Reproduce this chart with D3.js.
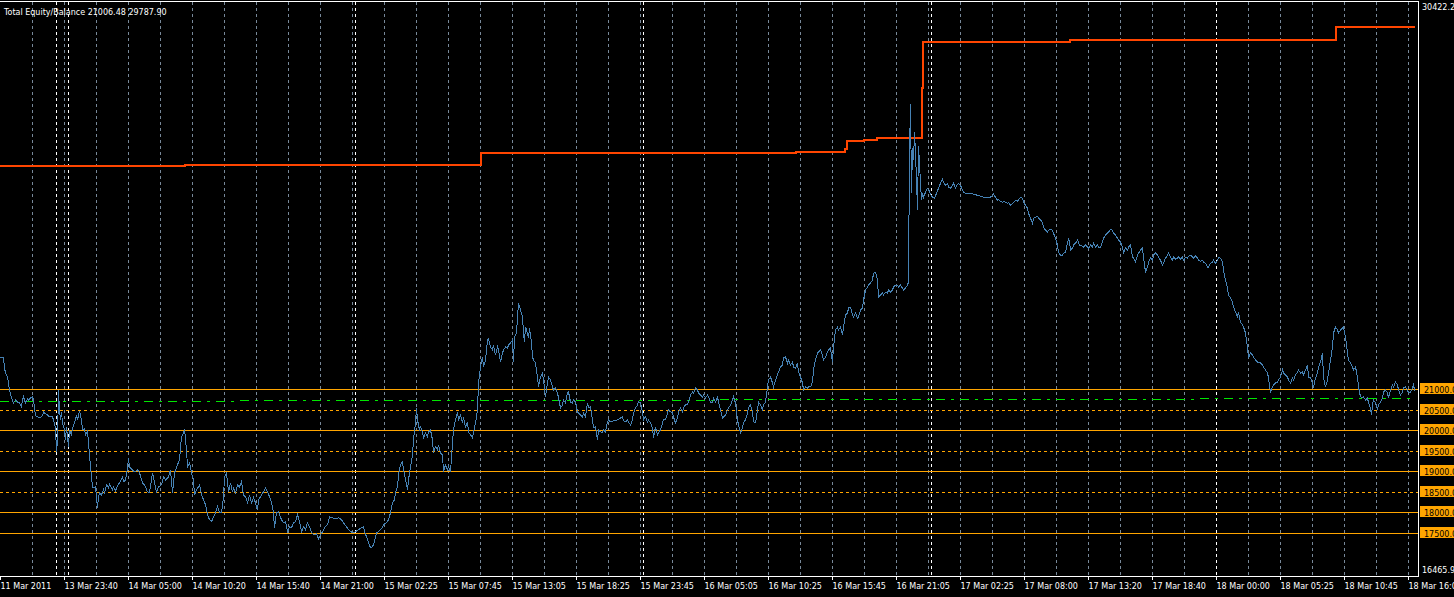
<!DOCTYPE html>
<html><head><meta charset="utf-8">
<script src="https://cdn.jsdelivr.net/npm/d3@7"></script>
<style>html,body{margin:0;padding:0;background:#000;overflow:hidden}svg{display:block}</style>
</head><body><svg id="c" width="1454" height="597"></svg>
<script>
// ---------- data ----------
const titleText = "Total Equity/Balance 21006.48 29787.90";
const priceMax = 30422.2;
const priceMin = 16465.9;
const timeLabels = ["11 Mar 2011","13 Mar 23:40","14 Mar 05:00","14 Mar 10:20","14 Mar 15:40","14 Mar 21:00",
  "15 Mar 02:25","15 Mar 07:45","15 Mar 13:05","15 Mar 18:25","15 Mar 23:45","16 Mar 05:05","16 Mar 10:25",
  "16 Mar 15:45","16 Mar 21:05","17 Mar 02:25","17 Mar 08:00","17 Mar 13:20","17 Mar 18:40","18 Mar 00:00",
  "18 Mar 05:25","18 Mar 10:45","18 Mar 16:05"];
const barsPerLabel = 64;
const barsPerGrid = 32;
const totalBars = 1418;
const levels = [21000, 20500, 20000, 19500, 19000, 18500, 18000, 17500];
const levelDashed = [false, true, false, true, false, true, false, false];
const separatorBars = [56, 68, 355, 643, 931, 1216];
// balance: [bar, value] change points
const balance = [[0,26419],[185,26443],[481,26735],[796,26759],[845,26839],[847,27027],[864,27058],[877,27100],
  [922,28327],[923,29433],[1070,29482],[1336,29788],[1415,29788]];
const trendLine = [[0,20695],[1415,20767]];
// equity: [bar, value]
const equity = [[0,21777],[3,21752],[4,21510],[5,21388],[7,21291],[8,21146],[9,20976],[11,20782],[13,20660],[15,20733],[17,20684],[19,20660],[21,20563],[22,20733],[23,20806],[25,20660],[27,20757],[28,20733],[30,20782],[32,20806],[33,20733],[35,20345],[37,20320],[39,20296],[42,20345],[43,20442],[45,20393],[47,20369],[49,20320],[52,20320],[53,20248],[55,20053],[56,19471],[57,19762],[58,20976],[59,20490],[60,20248],[61,20442],[62,20175],[64,20005],[65,19762],[66,20078],[68,19592],[69,20005],[71,19884],[72,20053],[74,20175],[76,20369],[77,20248],[79,20466],[81,20248],[82,20005],[84,20029],[85,19884],[87,19981],[88,19689],[90,19107],[92,18622],[93,18597],[95,18622],[97,18112],[98,18379],[99,18476],[101,18427],[103,18549],[104,18476],[106,18670],[108,18597],[109,18694],[112,18549],[113,18622],[115,18524],[117,18646],[119,18719],[122,18864],[123,18743],[125,18791],[127,19083],[128,19325],[129,19107],[132,19034],[134,18986],[137,19034],[139,18961],[142,18719],[144,18670],[147,18500],[149,18476],[152,18961],[154,18719],[156,18500],[158,18622],[161,18670],[163,18864],[165,18791],[168,18864],[170,19034],[172,18476],[174,18961],[177,19155],[179,19277],[181,19835],[183,19932],[184,20029],[186,19520],[187,19107],[189,19204],[191,18961],[193,18791],[194,18427],[196,18549],[198,18622],[199,18670],[201,18427],[203,18306],[205,18185],[207,17942],[209,17821],[211,17772],[213,17893],[215,17990],[217,18136],[219,17990],[221,17990],[223,18379],[224,18864],[226,18961],[228,18500],[230,18719],[232,18500],[233,18597],[235,18476],[237,18670],[239,18622],[241,18743],[243,18427],[245,18379],[247,18233],[249,18427],[251,18233],[253,18355],[255,18233],[257,18063],[258,18306],[260,18379],[263,18500],[265,18597],[267,18500],[269,18379],[271,18233],[273,17990],[274,17626],[276,17990],[278,18015],[281,17821],[283,17748],[285,17772],[287,17529],[289,17651],[291,17626],[293,17748],[295,17772],[297,17942],[299,17772],[301,17529],[303,17651],[305,17578],[307,17748],[309,17651],[311,17505],[313,17457],[316,17481],[318,17360],[320,17457],[322,17529],[324,17626],[327,17699],[329,17893],[332,17869],[335,17845],[338,17869],[341,17821],[343,17748],[346,17651],[349,17554],[352,17505],[355,17529],[358,17578],[361,17626],[363,17651],[364,17529],[366,17408],[368,17263],[370,17141],[372,17165],[374,17287],[376,17505],[378,17529],[381,17602],[383,17699],[386,17748],[388,17821],[390,17990],[392,18233],[394,18306],[395,18476],[397,18622],[398,18913],[400,19155],[402,19228],[403,19034],[405,18791],[407,18549],[408,18791],[410,19107],[412,19398],[413,19762],[415,20175],[416,20539],[417,20248],[419,20005],[420,20078],[422,19956],[423,19811],[425,19932],[427,19835],[428,19956],[430,20005],[432,19762],[433,19447],[435,19592],[437,19520],[438,19641],[440,19447],[442,19398],[443,18986],[445,19155],[447,19034],[448,19107],[450,18986],[452,19689],[453,20005],[455,20248],[457,20442],[458,20248],[460,20369],[462,20175],[463,20320],[465,20053],[467,20199],[468,19956],[470,19884],[472,19811],[473,19932],[475,20175],[477,20490],
[478,21146],[480,21534],[482,21777],[483,21534],[485,21704],[487,22189],[488,22214],[490,22019],[492,21947],[493,22068],[495,21825],[497,22019],[498,21947],[500,21655],[502,21874],[503,21947],[505,22019],[507,21995],[508,22068],[510,22116],[512,22189],[513,21655],[514,22262],[516,22359],[517,22747],[518,23087],[520,22917],[522,22747],[523,22359],[524,22141],[525,22505],[527,22359],[528,22238],[529,22480],[531,22116],[532,21777],[533,21704],[535,21631],[537,21291],[538,21049],[540,21291],[542,21388],[543,21218],[545,20806],[547,21146],[548,21291],[550,21218],[552,21049],[553,20976],[555,21024],[557,20903],[558,20782],[560,20539],[562,20612],[563,20733],[565,20660],[567,20903],[568,20927],[570,20684],[572,20660],[573,20733],[575,20684],[577,20442],[578,20418],[580,20369],[582,20320],[583,20418],[585,20320],[587,20660],[588,20539],[590,20563],[592,20248],[593,20053],[595,20078],[597,19762],[598,20005],[600,19956],[602,19932],[603,20005],[605,19956],[607,20199],[608,20248],[610,20199],[613,20223],[617,20248],[620,20296],[622,20320],[623,20223],[625,20199],[627,20248],[628,20199],[630,20126],[632,20248],[633,20418],[635,20539],[637,20612],[638,20684],[640,20660],[642,20442],[643,20248],[645,20320],[647,20199],[648,20248],[650,20175],[652,20053],[653,19811],[655,20078],[657,19884],[658,19932],[660,20005],[662,20175],[663,20248],[665,20248],[667,20418],[668,20490],[670,20442],[672,20418],[673,20320],[675,20175],[677,20296],[678,20442],[680,20539],[682,20442],[683,20539],[685,20612],[687,20612],[688,20684],[690,20854],[692,20927],[693,20903],[695,21024],[697,20976],[698,20903],[700,20854],[702,20806],[703,20854],[705,20782],[707,20854],[708,20806],[710,20684],[712,20660],[713,20782],[715,20684],[717,20806],[718,20684],[720,20490],[722,20296],[723,20320],[725,20369],[727,20490],[728,20539],[730,20612],[732,20733],[733,20806],[735,20660],[737,20248],[738,20126],[740,19932],[742,20053],[743,20175],[745,20248],[747,20418],[748,20539],[750,20612],[752,20442],[753,20199],[755,20175],[757,20490],[758,20684],[760,20612],[762,20490],[763,20612],[765,20684],[767,21049],[768,21218],[770,21291],[772,21146],[773,21049],[775,21218],[777,21340],[778,21413],[780,21534],[782,21582],[783,21752],[785,21777],[787,21631],[788,21704],[790,21582],[792,21655],[793,21534],[795,21510],[797,21631],[798,21413],[800,21291],[802,21146],[803,20976],[805,21049],[807,21024],[808,21049],[810,21049],[812,21170],[813,21461],[815,21704],[817,21874],[818,21898],[820,21947],[822,21825],[823,21704],[825,21777],[827,21898],[828,21947],[830,21995],[832,21655],[833,22019],[835,22432],[837,22505],[838,22432],[840,22505],[842,22311],[843,22505],[845,22796],[847,22845],[848,22966],[850,22990],[852,22796],[853,22747],[855,22845],[857,22723],[858,22747],[860,22917],[862,22966],[863,23160],[865,23403],[867,23476],[868,23524],[870,23573],[872,23645],[873,23815],[875,23840],[877,23645],[878,23233],[880,23281],[882,23330],[883,23281],[885,23354],[887,23330],[888,23403],[890,23354],[892,23403],[893,23476],[895,23524],[897,23524],[898,23476],[900,23524],[902,23451],[903,23403],[905,23451],[907,23524],[908,23597],[909,26759],[910,27917],[911,25757],[912,26849],[913,26558],[914,27237],[915,26728],[916,26072],[917,25344],[918,26898],[919,26485],[920,26000],[921,25587],[922,25757],[923,25660],[925,25781],[927,25878],[928,25854],[930,25733],[932,25660],[934,25636],[936,25757],[938,25878],[940,26000],[942,26097],[943,26024],[945,25951],[947,26000],[948,25903],[950,25878],[952,25951],[953,26000],[955,25878],[957,25975],[958,26000],[960,25951],[962,25830],[963,25781],[965,25757],[967,25757],[970,25757],[973,25733],[977,25708],[980,25684],[983,25660],[987,25660],[990,25660],[992,25708],[993,25733],[995,25660],[997,25587],[998,25611],[1000,25563],[1002,25538],[1003,25563],[1005,25538],[1007,25514],[1008,25538],[1010,25466],[1012,25514],[1013,25538],[1015,25587],[1017,25563],[1020,25660],[1022,25636],[1023,25538],[1025,25466],[1027,25393],[1028,25272],[1030,25151],[1032,25029],[1033,25151],[1035,25174],[1037,25199],[1038,25151],[1040,25102],[1042,25053],[1043,24932],[1045,24859],[1047,24810],[1048,24859],[1050,24883],[1052,24859],[1053,24786],[1055,24665],[1057,24495],[1058,24325],[1060,24252],[1062,24252],[1063,24301],[1065,24325],[1067,24543],[1068,24665],[1069,24568],[1070,24374],[1072,24422],[1073,24495],[1075,24543],[1077,24616],[1078,24568],[1079,24495],[1082,24471],[1083,24447],[1085,24495],[1087,24447],[1088,24422],[1090,24495],[1092,24447],[1093,24543],[1095,24447],[1097,24495],[1098,24447],[1100,24447],[1102,24568],[1103,24665],[1105,24738],[1107,24786],[1108,24810],[1110,24883],[1112,24859],[1113,24786],[1115,24738],[1117,24665],[1118,24616],[1120,24568],[1122,24447],[1123,24301],[1125,24422],[1127,24374],[1128,24447],[1130,24495],[1132,24204],[1133,24179],[1135,24082],[1137,24252],[1138,24301],[1140,24374],[1142,24422],[1143,24204],[1145,23840],[1147,23961],[1148,24082],[1150,24179],[1152,24131],[1153,24252],[1155,24301],[1157,24252],[1158,24204],[1160,24131],[1162,24009],[1163,24058],[1165,24179],[1167,24252],[1168,24301],[1170,24204],[1172,24131],[1173,24204],[1175,24155],[1177,24179],[1178,24204],[1180,24155],[1182,24204],[1183,24131],[1185,24204],[1187,24179],[1188,24228],[1190,24252],[1192,24204],[1193,24179],[1195,24228],[1197,24179],[1198,24131],[1200,24107],[1202,24131],[1203,24082],[1205,24058],[1207,23961],[1208,23961],[1210,24058],[1212,24082],[1213,24131],[1215,24058],[1217,24131],[1218,24204],[1220,24179],[1222,24082],[1223,23888],[1225,23645],[1227,23451],[1228,23281],[1230,23209],[1232,23111],[1233,22990],[1235,22869],[1237,22747],[1238,22869],[1240,22626],[1242,22553],[1243,22505],[1245,22359],[1247,22019],[1248,21752],[1250,21874],[1252,21825],[1253,21777],[1255,21704],[1257,21655],[1258,21631],[1260,21631],[1262,21582],[1263,21534],[1265,21461],[1267,21388],[1268,21267],[1270,20927],[1272,21049],[1273,21097],[1275,21146],[1277,21170],[1278,21218],[1280,21291],[1282,21461],[1283,21388],[1285,21340],[1287,21291],[1288,21218],[1290,21146],[1292,21267],[1293,21218],[1295,21340],[1297,21413],[1298,21461],[1300,21388],[1302,21413],[1303,21340],[1305,21461],[1307,21582],[1308,21291],[1310,21267],[1312,21146],[1313,21024],[1315,21267],[1317,21388],[1318,21534],[1320,21655],[1322,21874],[1323,21267],[1325,21049],[1327,21218],[1328,21388],[1330,21704],[1332,22019],[1333,22359],[1335,22505],[1337,22432],[1338,22359],[1340,22432],[1342,22480],[1343,22505],[1345,22262],[1347,21874],[1348,21704],[1350,21631],[1352,21534],[1353,21461],[1355,21534],[1357,21291],[1358,21049],[1360,20806],[1362,20782],[1363,20806],[1365,20733],[1367,20782],[1368,20660],[1370,20539],[1371,20369],[1372,20612],[1373,20733],[1375,20660],[1377,20490],[1378,20612],[1380,20684],[1382,20782],[1383,20927],[1385,20976],[1387,20903],[1388,20782],[1390,20976],[1392,21097],[1393,21049],[1395,21170],[1397,21097],[1398,20976],[1400,20854],[1402,20927],[1403,21024],[1405,21049],[1407,20976],[1408,20903],[1410,20927],[1412,21024],[1413,21097],[1414,20976],[1415,21006]];

// ---------- chart ----------
const svg = d3.select("#c");
const FONT = "DejaVu Sans, sans-serif";
svg.append("rect").attr("width",1454).attr("height",597).attr("fill","#000");

const plotRight = 1418;
const x = d3.scaleLinear().domain([0, totalBars]).range([0, plotRight]);
const y = d3.scaleLinear().domain([priceMin, priceMax]).range([575.5, 1.3]);
const snap = v => Math.round(v) + 0.5;

// vertical grid
const gridBars = d3.range(barsPerGrid, totalBars, barsPerGrid);
svg.append("g").selectAll("line").data(gridBars).join("line")
  .attr("x1", d => snap(x(d))).attr("x2", d => snap(x(d)))
  .attr("y1", 2).attr("y2", 576)
  .attr("stroke", "#778899").attr("stroke-width", 1)
  .attr("stroke-dasharray", "3,3").attr("shape-rendering","crispEdges");

// period separators
svg.append("g").selectAll("line").data(separatorBars).join("line")
  .attr("x1", d => snap(x(d))).attr("x2", d => snap(x(d)))
  .attr("y1", 2).attr("y2", 576)
  .attr("stroke", "#ffffff").attr("stroke-width", 1)
  .attr("stroke-dasharray", "3,3").attr("shape-rendering","crispEdges");

// horizontal levels
svg.append("g").selectAll("line").data(levels).join("line")
  .attr("x1", 0).attr("x2", plotRight)
  .attr("y1", d => snap(y(d))).attr("y2", d => snap(y(d)))
  .attr("stroke", "#ffa500").attr("stroke-width", 1)
  .attr("stroke-dasharray", (d,i) => levelDashed[i] ? "3,3" : null)
  .attr("shape-rendering","crispEdges");

// trend line (green dash-dot)
svg.append("path").datum(trendLine)
  .attr("d", d3.line().x(d => x(d[0])).y(d => y(d[1])))
  .attr("fill","none").attr("stroke","#00e600").attr("stroke-width",1)
  .attr("stroke-dasharray","9,6,3,6").attr("shape-rendering","crispEdges");

// balance
svg.append("path").datum(balance)
  .attr("d", d3.line().curve(d3.curveStepAfter).x(d => x(d[0])).y(d => y(d[1])))
  .attr("fill","none").attr("stroke","#ff4500").attr("stroke-width",2)
  .attr("shape-rendering","crispEdges");

// equity
svg.append("path").datum(equity)
  .attr("d", d3.line().x(d => x(d[0]) + 0.5).y(d => y(d[1])))
  .attr("fill","none").attr("stroke","#4682b4").attr("stroke-width",1)
  .attr("shape-rendering","crispEdges");

// frame
const frame = svg.append("g").attr("stroke","#fff").attr("stroke-width",1).attr("shape-rendering","crispEdges");
frame.append("line").attr("x1",0).attr("x2",plotRight+0.5).attr("y1",1.5).attr("y2",1.5);
frame.append("line").attr("x1",plotRight+0.5).attr("x2",plotRight+0.5).attr("y1",1).attr("y2",577);

// bottom axis
const tickBars = timeLabels.map((d,i) => i * barsPerLabel);
const xAxis = d3.axisBottom(x).tickValues(tickBars).tickFormat((d,i) => timeLabels[i]).tickSizeInner(4).tickSizeOuter(0);
const gx = svg.append("g").attr("transform","translate(0,576)").call(xAxis);
gx.select(".domain").attr("stroke","#fff").attr("shape-rendering","crispEdges");
gx.selectAll(".tick line").attr("stroke","#fff").attr("shape-rendering","crispEdges");
gx.selectAll(".tick text").attr("fill","#fff").attr("text-anchor","start")
  .attr("x", 0).attr("y", 13).attr("dy", null)
  .style("font-family", FONT).style("font-size","8px");

// right price labels
const lab = svg.append("g");
lab.selectAll("rect").data(levels).join("rect")
  .attr("x", 1420).attr("width", 40)
  .attr("y", d => Math.round(y(d)) - 6).attr("height", 11)
  .attr("fill", "#ffa500");
lab.selectAll("text").data(levels).join("text")
  .attr("x", 1424).attr("y", d => Math.round(y(d)) + 3.5)
  .attr("fill","#000").style("font-family",FONT).style("font-size","8px")
  .text(d => d.toFixed(2));
svg.append("text").attr("x",1422).attr("y",10).attr("fill","#fff")
  .style("font-family",FONT).style("font-size","8px").text(priceMax.toFixed(2));
svg.append("text").attr("x",1422).attr("y",573).attr("fill","#fff")
  .style("font-family",FONT).style("font-size","8px").text(priceMin.toFixed(2));

// title
svg.append("text").attr("x",4).attr("y",15).attr("fill","#fff")
  .style("font-family",FONT).style("font-size","8px").text(titleText);
</script>
</body></html>
